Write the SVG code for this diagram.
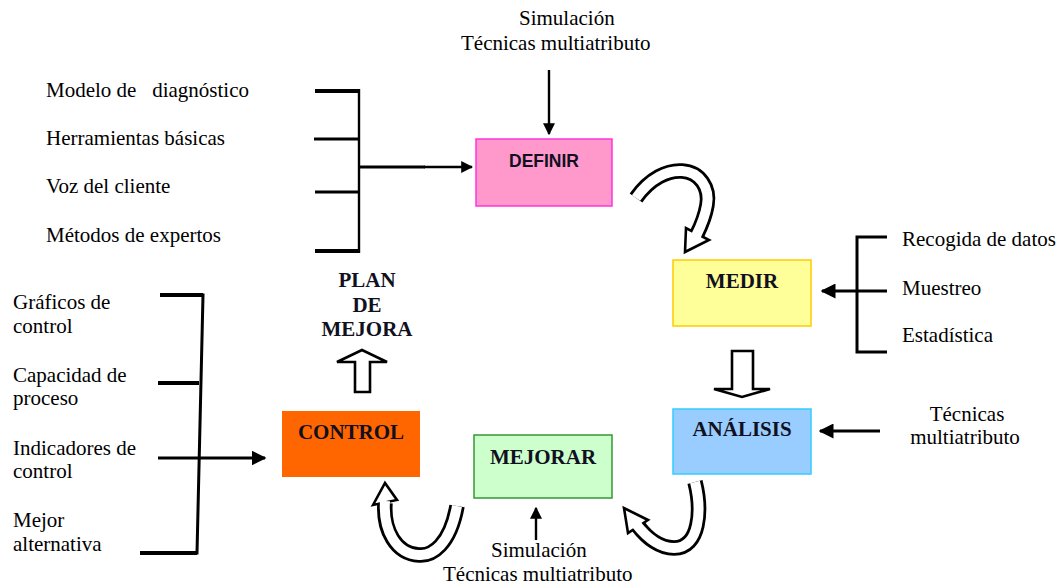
<svg xmlns="http://www.w3.org/2000/svg" width="1063" height="585" viewBox="0 0 1063 585">
<style>
.t{font-family:"Liberation Serif","Times New Roman",serif;font-size:21px;fill:#000}
.b{font-family:"Liberation Serif","Times New Roman",serif;font-size:21px;font-weight:bold;fill:#101020;text-anchor:middle}
.s{font-family:"Liberation Sans",Arial,sans-serif;font-size:17.5px;font-weight:bold;fill:#101020;text-anchor:middle}
.ln{stroke:#000;stroke-width:2.4;fill:none}
.l3{stroke:#000;stroke-width:3;fill:none}
.tk{stroke:#000;stroke-width:4;fill:none}
.tm{stroke:#000;stroke-width:3.2;fill:none}
.ho{fill:#fff;stroke:#000;stroke-width:2.6;stroke-linejoin:miter}
.co{stroke:#000;stroke-width:15.5;fill:none;stroke-linecap:butt}
.ci{stroke:#fff;stroke-width:10;fill:none;stroke-linecap:butt}
</style>
<defs>
<marker id="ah" viewBox="0 0 10 10" refX="9" refY="5" markerWidth="5" markerHeight="5" orient="auto" markerUnits="strokeWidth">
<path d="M0,0 L10,5 L0,10 z" fill="#000"/>
</marker>
</defs>
<rect width="1063" height="585" fill="#fff"/>

<g id="definir">
<rect x="476" y="139" width="136" height="67" fill="#FF99CC" stroke="#FF33DD" stroke-width="1.5"/>
<text class="s" x="544" y="167">DEFINIR</text>
</g>
<g id="medir">
<rect x="673" y="260" width="138" height="66" fill="#FFFF99" stroke="#FFCC00" stroke-width="1.5"/>
<text class="b" x="742" y="288">MEDIR</text>
</g>
<g id="analisis">
<rect x="673" y="409" width="138" height="65" fill="#99CCFF" stroke="#33CCFF" stroke-width="1.5"/>
<text class="b" x="742" y="436">ANÁLISIS</text>
</g>
<g id="mejorar">
<rect x="474" y="435" width="138" height="63" fill="#CCFFCC" stroke="#339933" stroke-width="1.5"/>
<text class="b" x="543" y="464">MEJORAR</text>
</g>
<g id="control">
<rect x="282" y="411" width="138" height="66" fill="#FF6600"/>
<text class="b" x="351" y="439">CONTROL</text>
</g>
<g id="plan">
<text class="b" x="367" y="287">PLAN</text>
<text class="b" x="367" y="312">DE</text>
<text class="b" x="367" y="336">MEJORA</text>
</g>

<g id="definir-inputs">
<text class="t" x="519" y="25">Simulación</text>
<text class="t" x="461" y="50">Técnicas multiatributo</text>
<text class="t" x="46" y="97" xml:space="preserve">Modelo de   diagnóstico</text>
<text class="t" x="46" y="145">Herramientas básicas</text>
<text class="t" x="46" y="193">Voz del cliente</text>
<text class="t" x="46" y="242">Métodos de expertos</text>
</g>
<g id="medir-inputs">
<text class="t" x="902" y="246">Recogida de datos</text>
<text class="t" x="902" y="295">Muestreo</text>
<text class="t" x="902" y="342">Estadística</text>
</g>
<g id="analisis-inputs">
<text class="t" x="967" y="421" text-anchor="middle">Técnicas</text>
<text class="t" x="965" y="444" text-anchor="middle">multiatributo</text>
</g>
<g id="mejorar-inputs">
<text class="t" x="491" y="557">Simulación</text>
<text class="t" x="443" y="581">Técnicas multiatributo</text>
</g>
<g id="control-inputs">
<text class="t" x="13" y="309">Gráficos de</text>
<text class="t" x="13" y="333">control</text>
<text class="t" x="13" y="382">Capacidad de</text>
<text class="t" x="13" y="405">proceso</text>
<text class="t" x="13" y="455">Indicadores de</text>
<text class="t" x="13" y="478">control</text>
<text class="t" x="13" y="527">Mejor</text>
<text class="t" x="13" y="551">alternativa</text>
</g>

<g id="connectors">
<!-- DEFINIR bracket -->
<line class="ln" x1="359" y1="89" x2="359" y2="253"/>
<line class="tk" x1="315" y1="91" x2="360" y2="91"/>
<line class="tm" x1="314" y1="139" x2="360" y2="139"/>
<line class="tm" x1="315" y1="192" x2="360" y2="192"/>
<line class="tk" x1="315" y1="251" x2="360" y2="251"/>
<line class="l3" x1="359" y1="167" x2="425" y2="167"/>
<line class="ln" x1="424" y1="167" x2="472" y2="167" marker-end="url(#ah)"/>
<line class="ln" x1="549" y1="70" x2="549" y2="134" marker-end="url(#ah)"/>

<!-- MEDIR bracket -->
<path class="l3" d="M887 237 H857 V352 H887"/>
<line class="l3" x1="887" y1="291" x2="822" y2="291" marker-end="url(#ah)"/>

<!-- ANALISIS input -->
<line class="l3" x1="880" y1="431" x2="820" y2="431" marker-end="url(#ah)"/>

<!-- MEJORAR input -->
<line class="ln" x1="536" y1="540" x2="536" y2="508" marker-end="url(#ah)"/>

<!-- CONTROL bracket -->
<path class="l3" d="M160 295 H203 L197 553 H140"/>
<line class="tk" x1="160" y1="295" x2="203" y2="295"/>
<line class="tk" x1="158" y1="383" x2="199" y2="383"/>
<line class="tk" x1="140" y1="553" x2="197" y2="553"/>
<line class="l3" x1="158" y1="458" x2="265" y2="458" marker-end="url(#ah)"/>

<!-- hollow straight arrows -->
<path class="ho" d="M355 392 V362 H337 L362 350 L387 362 H370 V392 Z"/>
<path class="ho" d="M732 351 V389 H714 L742 397 L770 389 H753 V351 Z"/>

<!-- curved arrow DEFINIR -> MEDIR -->
<path class="co" d="M636 198 C650 178 668 170 682 171 C700 172 710 188 707 205 C705 217 701 226 697 234"/>
<path class="ho" d="M686 228 L685 252 L709 240 Z"/>
<path class="ci" d="M636 198 C650 178 668 170 682 171 C700 172 710 188 707 205 C705 217 701 226 696 236"/>

<!-- curved arrow ANALISIS -> MEJORAR -->
<path class="co" d="M695 482 C702 510 700 548 674 548 C660 548 647 538 638 526"/>
<path class="ho" d="M628 533 L624 508 L648 520 Z"/>
<path class="ci" d="M695 482 C702 510 700 548 674 548 C660 548 647 538 636 524"/>

<!-- curved arrow MEJORAR -> CONTROL -->
<path class="co" d="M457 506 C450 545 432 556 419 555 C396 554 383 530 385 503"/>
<path class="ho" d="M373 505 L385 483 L397 500 Z"/>
<path class="ci" d="M457 506 C450 545 432 556 419 555 C396 554 383 530 385 501"/>
</g>
</svg>
